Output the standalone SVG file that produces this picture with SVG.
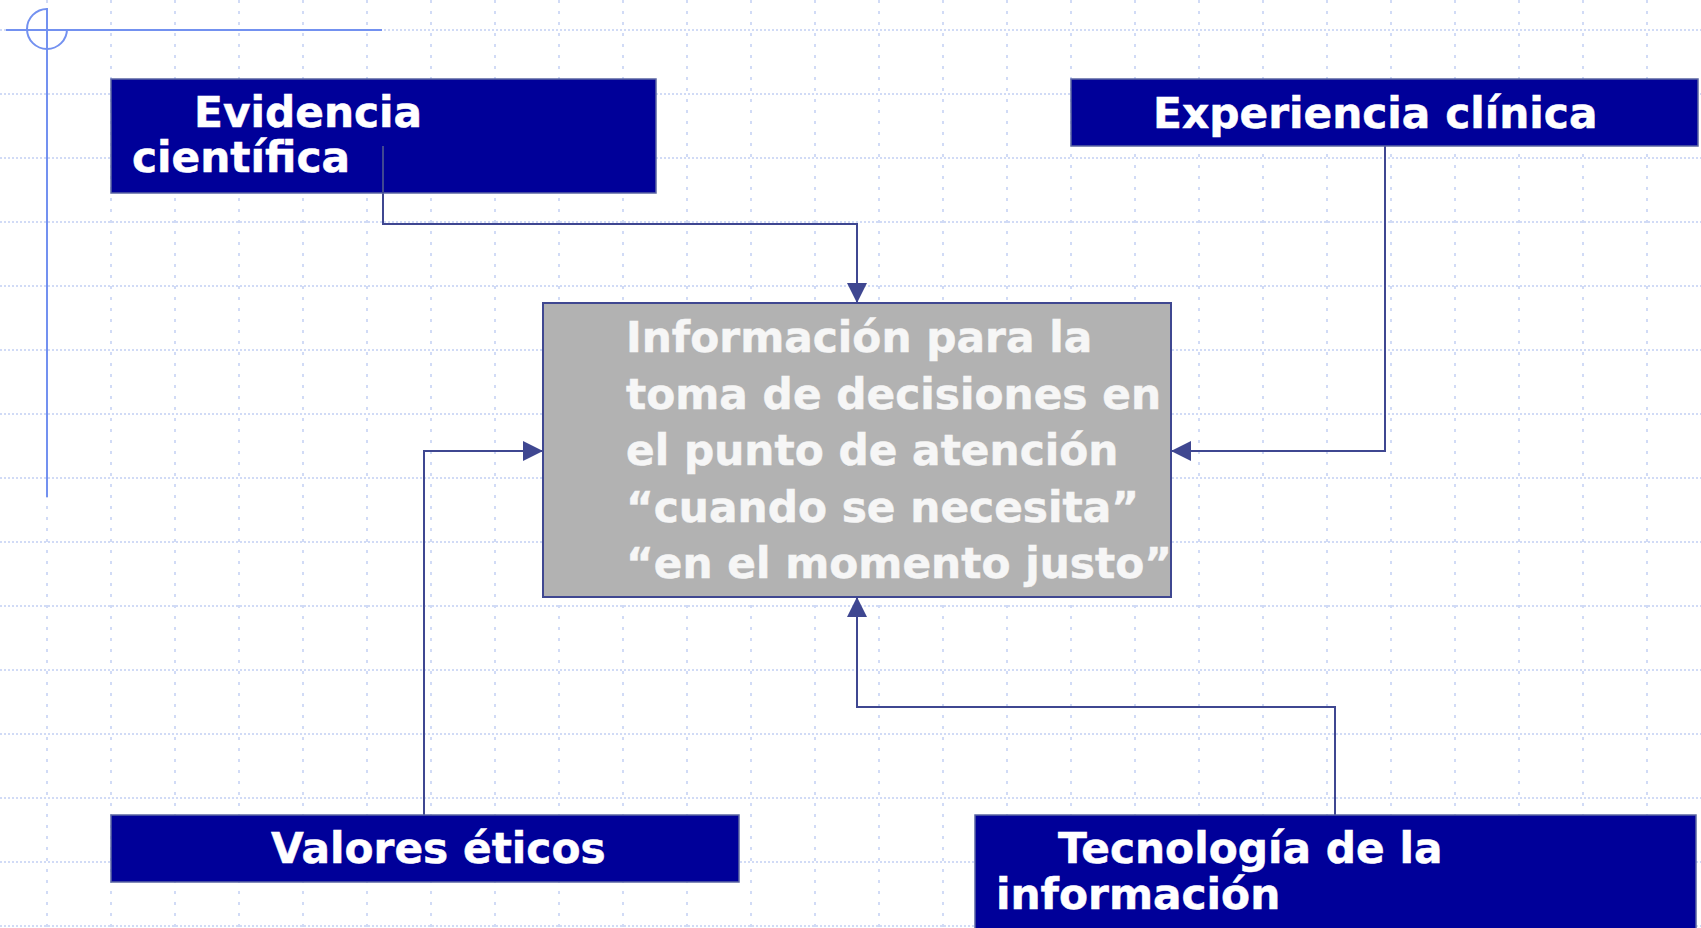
<svg xmlns="http://www.w3.org/2000/svg" width="1701" height="928" viewBox="0 0 1701 928">
<defs>
<style>
.gh{stroke:#c2cff3;stroke-width:1.5;stroke-dasharray:2 2;fill:none}
.gv{stroke:#c2cff3;stroke-width:1.5;stroke-dasharray:3 8;fill:none}
.deco{stroke:#7391f0;stroke-width:2;fill:none}
.bx{fill:#000099;stroke:#5b65a3;stroke-width:1.5}
.ctr{fill:#b2b2b2;stroke:#3f4791;stroke-width:2}
.t{font-family:"DejaVu Sans",Verdana,sans-serif;font-weight:bold;font-size:42.3px;fill:#ffffff;stroke:#ffffff;stroke-width:0.5}
.tc{font-family:"DejaVu Sans",Verdana,sans-serif;font-weight:bold;font-size:42.3px;fill:#f6f6f6;stroke:#f6f6f6;stroke-width:0.5}
.cn{stroke:#3f4791;stroke-width:2;fill:none;marker-end:url(#ah)}
</style>
<marker id="ah" markerUnits="userSpaceOnUse" markerWidth="20" markerHeight="20" refX="20" refY="10" orient="auto" viewBox="0 0 20 20">
<path d="M0,0 L20,10 L0,20 z" fill="#3f4791"/>
</marker>
</defs>
<rect width="1701" height="928" fill="#ffffff"/>
<g id="grid">
<path class="gh" d="M0,30H1701M0,94H1701M0,158H1701M0,222H1701M0,286H1701M0,350H1701M0,414H1701M0,478H1701M0,542H1701M0,606H1701M0,670H1701M0,734H1701M0,798H1701M0,862H1701M0,926H1701"/>
<path class="gv" d="M47,0V928M111,0V928M175,0V928M239,0V928M303,0V928M367,0V928M431,0V928M495,0V928M559,0V928M623,0V928M687,0V928M751,0V928M815,0V928M879,0V928M943,0V928M1007,0V928M1071,0V928M1135,0V928M1199,0V928M1263,0V928M1327,0V928M1391,0V928M1455,0V928M1519,0V928M1583,0V928M1647,0V928"/>
</g>
<g id="decoration">
<path class="deco" d="M6,30H382"/>
<path class="deco" d="M47,8V497"/>
<path class="deco" d="M47,9 A20,20 0 1,0 67,29"/>
</g>
<g id="connectors">
<path class="cn" d="M383,146V224H857V303"/>
<path class="cn" d="M1385,146V451H1171"/>
<path class="cn" d="M424,815V451H543"/>
<path class="cn" d="M1335,815V707H857V597"/>
</g>
<g id="evidencia">
<rect class="bx" x="111" y="79" width="545" height="114"/>
<path d="M383,146V193" stroke="#3f4791" stroke-width="2"/>
<text class="t" x="194" y="127">Evidencia</text>
<text class="t" x="132" y="172">científica</text>
</g>
<g id="experiencia">
<rect class="bx" x="1071" y="79" width="627" height="67"/>
<text class="t" x="1153" y="128">Experiencia clínica</text>
</g>
<g id="informacion">
<rect class="ctr" x="543" y="303" width="628" height="294"/>
<text class="tc" x="626" y="352">Información para la</text>
<text class="tc" x="626" y="408.5">toma de decisiones en</text>
<text class="tc" x="626" y="465">el punto de atención</text>
<text class="tc" x="626" y="521.5">“cuando se necesita”</text>
<text class="tc" x="626" y="578">“en el momento justo”</text>
</g>
<g id="valores">
<rect class="bx" x="111" y="815" width="628" height="67"/>
<text class="t" x="271" y="863">Valores éticos</text>
</g>
<g id="tecnologia">
<rect class="bx" x="975" y="815" width="721" height="125"/>
<text class="t" x="1058" y="863">Tecnología de la</text>
<text class="t" x="996" y="909">información</text>
</g>
</svg>
